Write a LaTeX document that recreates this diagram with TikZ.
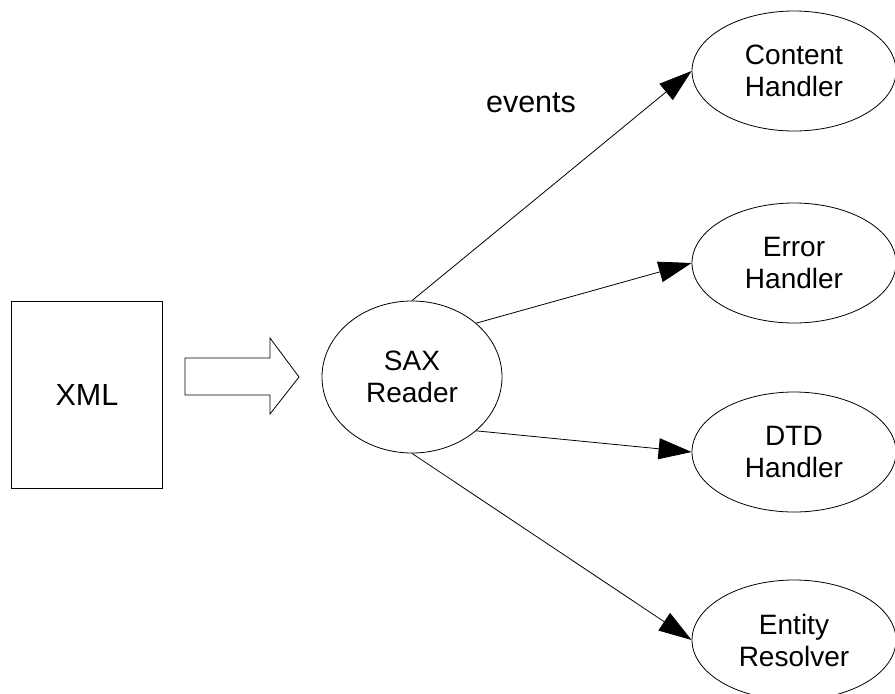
\documentclass[tikz,border=0pt]{standalone}
\usepackage{fontspec}
\setmainfont{Liberation Sans}
\usetikzlibrary{shapes.geometric,arrows.meta}
\begin{document}
\begin{tikzpicture}[x=1pt,y=-1pt,
  lbl/.style={font=\fontsize{28}{32}\selectfont, align=center},
  biglbl/.style={font=\fontsize{30.5}{34}\selectfont, align=center},
  oval/.style={ellipse, draw, line width=0.8pt, inner sep=0pt, lbl},
  handler/.style={oval, minimum width=204pt, minimum height=120pt},
  conn/.style={line width=0.8pt, -{Triangle[length=33pt,width=21pt]}},
  blockarrow/.style={draw, line width=0.8pt, line join=miter},
]
\useasboundingbox (0,0) rectangle (895,694);

\node[draw, line width=0.8pt, rectangle, minimum width=151pt, minimum height=187pt, inner sep=0pt, biglbl] (xml) at (87,395) {XML};

\draw[blockarrow] (185,358) -- (270,358) -- (270,338) -- (299,377) -- (270,414) -- (270,395) -- (185,395) -- cycle;

\node[oval, minimum width=180pt, minimum height=152pt] (sax) at (412,377) {SAX\\Reader};

\node[handler] (content) at (794,71) {Content\\Handler};
\node[handler] (error) at (794,263) {Error\\Handler};
\node[handler] (dtd) at (794,452) {DTD\\Handler};
\node[handler] (entity) at (794,640) {Entity\\Resolver};

\draw[conn] (sax.north) -- (content.west);
\draw[conn] (sax.40) -- (error.west);
\draw[conn] (sax.-40) -- (dtd.west);
\draw[conn] (sax.south) -- (entity.west);

\node[biglbl, anchor=base] (events) at (531,112) {events};
\end{tikzpicture}
\end{document}
